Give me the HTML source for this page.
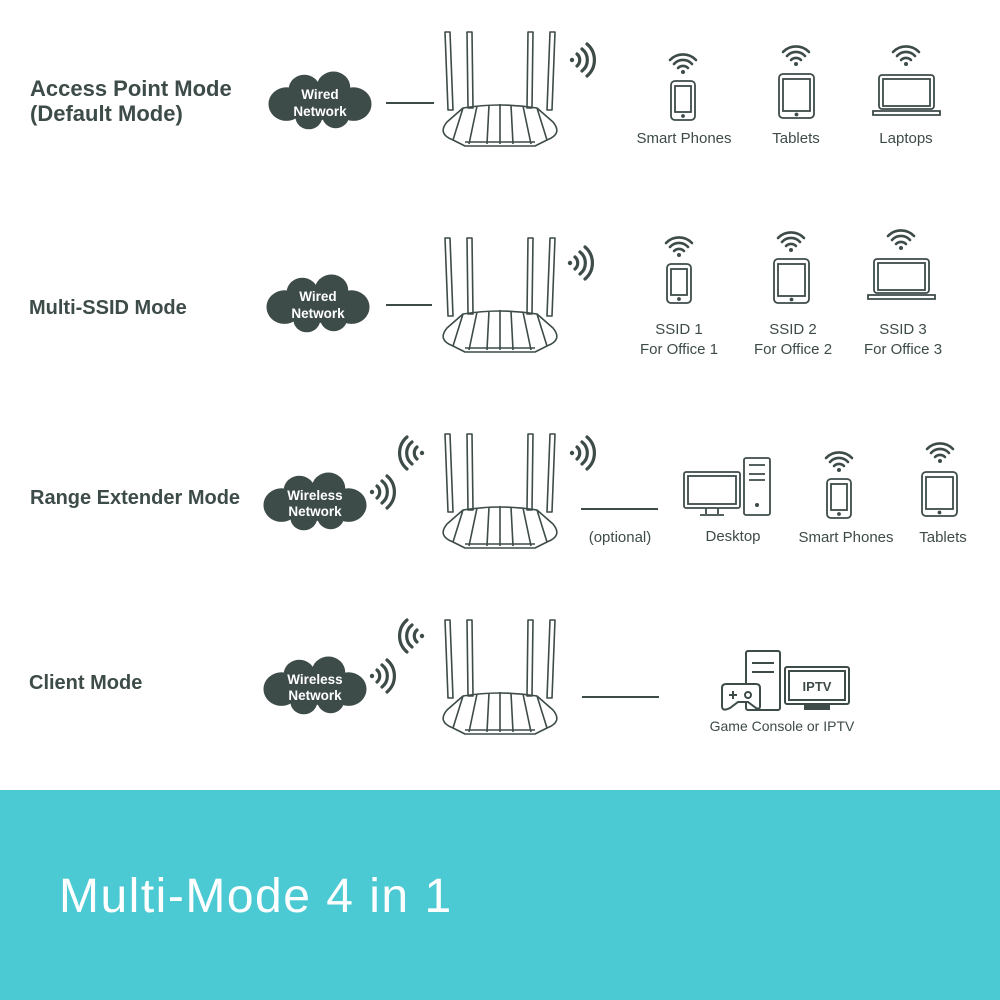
<!DOCTYPE html>
<html><head><meta charset="utf-8"><style>
html,body{margin:0;padding:0;background:#fff}
svg{display:block}
text{font-family:"Liberation Sans",sans-serif;fill:#3d4b49}
.t{font-size:20px;font-weight:bold}
.d{font-size:15px}
.c{font-size:13.5px;font-weight:bold;fill:#fff}
</style></head><body>
<svg width="1000" height="1000" viewBox="0 0 1000 1000" xmlns="http://www.w3.org/2000/svg">
<defs>
<g id="router" fill="none" stroke="#3d4b49" stroke-width="1.6" stroke-linejoin="round">
 <path d="M2,2 L7,2 L10,80 L5,80 Z"/>
 <path d="M24,2 L29,2 L30,78 L25,78 Z"/>
 <path d="M85,2 L90,2 L89,78 L84,78 Z"/>
 <path d="M107,2 L112,2 L109,80 L104,80 Z"/>
 <path d="M20,78 Q57,72 94,78 L110,92 Q120,104 104,110 L92,116 L22,116 L10,110 Q-6,104 4,92 Z"/>
 <path d="M20,78 L10,110 M34,76 L26,114 M46,75 L44,114 M57,74 L57,114 M68,75 L70,114 M80,76 L88,114 M94,78 L104,110"/>
 <path d="M22,112 L92,112"/>
</g>
<g id="waveR" fill="none" stroke="#3d4b49" stroke-width="3.2" stroke-linecap="round">
 <circle cx="0" cy="0" r="2.2" fill="#3d4b49" stroke="none"/>
 <path d="M5,-6 A8,8 0 0 1 5,6"/>
 <path d="M10,-11 A14,14 0 0 1 10,11"/>
 <path d="M15,-16 A21,21 0 0 1 15,16"/>
</g>
<g id="waveL"><use href="#waveR" transform="scale(-1,1)"/></g>
<g id="fan" fill="none" stroke="#3d4b49" stroke-width="2.6" stroke-linecap="round">
 <circle cx="0" cy="0" r="2" fill="#3d4b49" stroke="none"/>
 <path d="M-5,-4 A7,7 0 0 1 5,-4"/>
 <path d="M-9,-8 A12,12 0 0 1 9,-8"/>
 <path d="M-13,-12 A18,18 0 0 1 13,-12"/>
</g>
<g id="phone" fill="none" stroke="#3d4b49" stroke-width="1.8">
 <rect x="0" y="0" width="24" height="39" rx="4"/>
 <rect x="4" y="5" width="16" height="26"/>
 <circle cx="12" cy="35" r="1" fill="#3d4b49"/>
</g>
<g id="tablet" fill="none" stroke="#3d4b49" stroke-width="1.8">
 <rect x="0" y="0" width="35" height="44" rx="4"/>
 <rect x="4" y="5" width="27" height="32"/>
 <circle cx="17.5" cy="40.5" r="1" fill="#3d4b49"/>
</g>
<g id="cloud0" fill="#3d4b49">
 <ellipse cx="0" cy="0" rx="42" ry="17"/>
 <circle cx="-30" cy="2" r="16"/><circle cx="30" cy="2" r="16"/>
 <circle cx="-14" cy="-12" r="14"/><circle cx="12" cy="-14" r="15"/>
 <circle cx="-10" cy="14" r="12"/><circle cx="14" cy="13" r="12"/>
</g>
<g id="cloud"><use href="#cloud0" transform="scale(1.12,1.05)"/></g>
</defs>

<!-- Row 1 -->
<text class="t" x="30" y="96" style="font-size:22px">Access Point Mode</text>
<text class="t" x="30" y="121" style="font-size:22px">(Default Mode)</text>
<use href="#cloud" x="320" y="102"/>
<text class="c" x="320" y="99" text-anchor="middle">Wired</text>
<text class="c" x="320" y="116" text-anchor="middle">Network</text>
<line x1="386" y1="103" x2="434" y2="103" stroke="#3d4b49" stroke-width="2"/>
<use href="#router" x="443" y="30"/>
<use href="#waveR" x="572" y="60"/>
<use href="#fan" x="683" y="72"/><use href="#phone" x="671" y="81"/>
<use href="#fan" x="796" y="64"/><use href="#tablet" x="779" y="74"/>
<use href="#fan" x="906" y="64"/>
<g fill="none" stroke="#3d4b49" stroke-width="1.8"><rect x="879" y="75" width="55" height="34" rx="3"/><rect x="883" y="79" width="47" height="27"/><path d="M873,111 L940,111 L940,115 L873,115 Z"/></g>
<text class="d" x="684" y="143" text-anchor="middle">Smart Phones</text>
<text class="d" x="796" y="143" text-anchor="middle">Tablets</text>
<text class="d" x="906" y="143" text-anchor="middle">Laptops</text>

<!-- Row 2 -->
<text class="t" x="29" y="314">Multi-SSID Mode</text>
<use href="#cloud" x="318" y="305"/>
<text class="c" x="318" y="301" text-anchor="middle">Wired</text>
<text class="c" x="318" y="318" text-anchor="middle">Network</text>
<line x1="386" y1="305" x2="432" y2="305" stroke="#3d4b49" stroke-width="2"/>
<use href="#router" x="443" y="236"/>
<use href="#waveR" x="570" y="263"/>
<use href="#fan" x="679" y="255"/><use href="#phone" x="667" y="264"/>
<use href="#fan" x="791" y="250"/><use href="#tablet" x="774" y="259"/>
<use href="#fan" x="901" y="248"/>
<g fill="none" stroke="#3d4b49" stroke-width="1.8"><rect x="874" y="259" width="55" height="34" rx="3"/><rect x="878" y="263" width="47" height="27"/><path d="M868,295 L935,295 L935,299 L868,299 Z"/></g>
<text class="d" x="679" y="334" text-anchor="middle">SSID 1</text>
<text class="d" x="679" y="354" text-anchor="middle">For Office 1</text>
<text class="d" x="793" y="334" text-anchor="middle">SSID 2</text>
<text class="d" x="793" y="354" text-anchor="middle">For Office 2</text>
<text class="d" x="903" y="334" text-anchor="middle">SSID 3</text>
<text class="d" x="903" y="354" text-anchor="middle">For Office 3</text>

<!-- Row 3 -->
<text class="t" x="30" y="504">Range Extender Mode</text>
<use href="#cloud" x="315" y="503"/>
<text class="c" x="315" y="500" text-anchor="middle">Wireless</text>
<text class="c" x="315" y="516" text-anchor="middle">Network</text>
<use href="#waveR" x="372" y="492"/>
<use href="#waveL" x="422" y="453"/>
<use href="#router" x="443" y="432"/>
<use href="#waveR" x="572" y="453"/>
<line x1="581" y1="509" x2="658" y2="509" stroke="#3d4b49" stroke-width="2"/>
<text class="d" x="620" y="542" text-anchor="middle">(optional)</text>
<g fill="none" stroke="#3d4b49" stroke-width="1.8">
 <rect x="684" y="472" width="56" height="36" rx="2"/><rect x="688" y="476" width="48" height="28"/>
 <path d="M706,508 L706,514 M718,508 L718,514 M700,515 L724,515"/>
 <rect x="744" y="458" width="26" height="57" rx="2"/>
 <path d="M749,465 L765,465 M749,474 L765,474 M749,480 L765,480"/>
</g>
<circle cx="757" cy="505" r="2" fill="#3d4b49"/>
<text class="d" x="733" y="541" text-anchor="middle">Desktop</text>
<use href="#fan" x="839" y="470"/><use href="#phone" x="827" y="479"/>
<use href="#fan" x="940" y="461"/><use href="#tablet" x="922" y="472"/>
<text class="d" x="846" y="542" text-anchor="middle">Smart Phones</text>
<text class="d" x="943" y="542" text-anchor="middle">Tablets</text>

<!-- Row 4 -->
<text class="t" x="29" y="689">Client Mode</text>
<use href="#cloud" x="315" y="687"/>
<text class="c" x="315" y="684" text-anchor="middle">Wireless</text>
<text class="c" x="315" y="700" text-anchor="middle">Network</text>
<use href="#waveR" x="372" y="676"/>
<use href="#waveL" x="422" y="636"/>
<use href="#router" x="443" y="618"/>
<line x1="582" y1="697" x2="659" y2="697" stroke="#3d4b49" stroke-width="2"/>
<g fill="none" stroke="#3d4b49" stroke-width="2">
 <rect x="746" y="651" width="34" height="59" rx="2"/>
 <path d="M752,663 L774,663 M752,672 L774,672"/>
 <path d="M726,684 L756,684 Q760,684 760,688 L760,706 Q760,710 756,708 L748,702 L738,702 L730,708 Q722,712 722,706 L722,688 Q722,684 726,684 Z" fill="#fff"/>
 <path d="M729,695 L737,695 M733,691 L733,699"/>
 <circle cx="748" cy="695" r="3"/>
 <rect x="785" y="667" width="64" height="37" rx="2" fill="#fff"/><rect x="789" y="671" width="56" height="29"/>
 <path d="M805,705 L829,705 L829,709 L805,709 Z" fill="#3d4b49"/>
</g>
<text x="817" y="691" text-anchor="middle" style="font-size:13px;font-weight:bold">IPTV</text>
<text class="d" x="782" y="731" text-anchor="middle" style="font-size:14px">Game Console or IPTV</text>

<!-- Banner -->
<rect x="0" y="790" width="1000" height="210" fill="#4ccad4"/>
<text x="59" y="912" style="font-size:48px;fill:#fff;letter-spacing:1.5px">Multi-Mode 4 in 1</text>
</svg>
</body></html>
